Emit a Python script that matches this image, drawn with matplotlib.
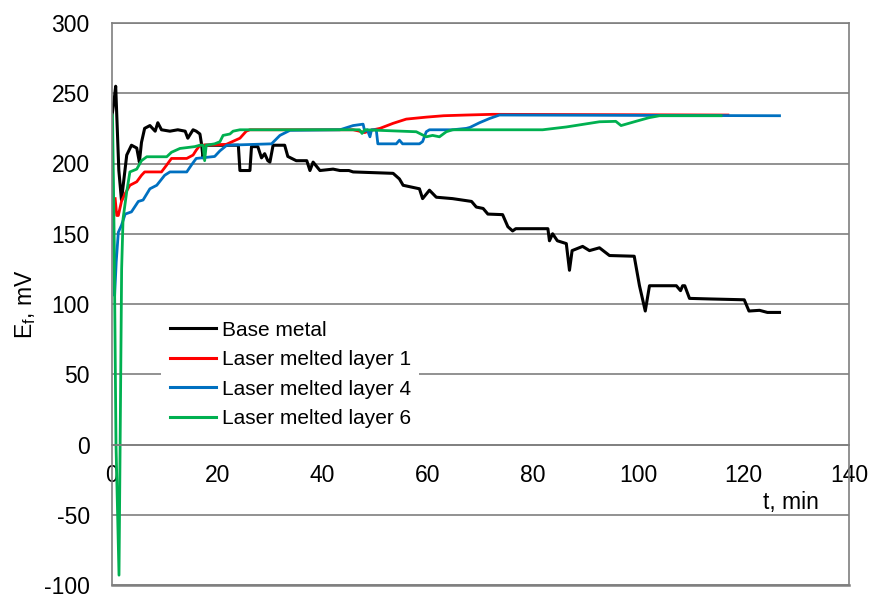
import matplotlib
matplotlib.use("Agg")
import matplotlib.pyplot as plt

plt.rcParams['font.family'] = ['Liberation Sans', 'DejaVu Sans']
plt.rcParams['axes.unicode_minus'] = False

# ---------------- data ----------------
base_t = [0, 0.4, 0.7, 1.0, 1.3, 1.8, 2.3, 2.8, 3.7, 4.7, 5.0, 5.2, 5.6, 6.2, 7.2, 8.2, 8.7, 9.4,
          11, 12.5, 13.9, 14.4, 15.4, 16, 16.7, 17.0, 17.3, 17.6, 24.0, 24.3, 26.2, 26.5, 27.7,
          28.4, 29.0, 29.6, 30.0, 30.6, 32.8, 33.4, 35, 37, 37.6, 38.2, 39.5, 42, 43.3, 45, 45.8,
          53.4, 54.6, 55.3, 58.4, 59, 60.3, 61.6, 64.7, 68.3, 69.2, 70.5, 71.4, 74.2, 75.2, 76.1,
          76.7, 82.8, 83.1, 83.7, 84.6, 86.3, 86.9, 87.4, 89.4, 90.7, 92.6, 94.5, 99.2, 100.2,
          101.3, 102.1, 107.2, 108, 108.4, 108.8, 109.7, 113.5, 120.1, 121, 123, 124.5, 126.8]
base_v = [234, 245, 255, 225, 195, 174, 190, 206, 213, 211, 205, 201, 215, 225, 227, 223, 229, 224,
          223, 224, 223, 218, 224, 223, 221, 214, 204, 213, 213, 195, 195, 212, 212,
          204, 207, 202, 201, 213, 213, 205, 202, 202, 195, 201, 195, 196, 195, 195, 194,
          193, 189, 184.5, 182, 175, 181, 176, 175, 173, 169, 168, 164, 163.6, 155, 152,
          153.6, 153.6, 145, 150, 145, 143, 124, 138, 141, 138, 140, 134.5, 134, 113,
          95, 113, 113, 109.5, 113, 113, 104, 103.6, 103, 95, 95.5, 94, 94]

l1_t = [0.6, 0.9, 1.2, 1.8, 2.5, 3.4, 4.7, 5.6, 6.2, 9.4, 10.4, 11.3, 14.2, 15.4, 16, 16.7, 21.7,
        24.3, 25.5, 26.2, 45.8, 47, 48, 49, 50.9, 53.4, 55.9, 59.7, 63, 67.3, 72.3, 117]
l1_v = [175, 163, 163, 173, 178.6, 184.5, 187, 191.6, 194, 194, 199, 203.6, 203.6, 206, 209.5, 213,
        213.6, 218, 223, 224, 224, 223, 222, 223.5, 225, 228.6, 231.6, 233, 234, 234.5, 235, 234.5]

l4_t = [0.1, 0.3, 0.5, 0.8, 1.2, 1.8, 2.5, 3.7, 5, 5.9, 7.2, 8.5, 10, 11, 14.2, 15.1, 16, 19.5,
        20.5, 21.8, 30.3, 31.9, 33.8, 43.3, 45.8, 47.7, 48, 48.5, 49, 49.3, 50.2, 50.5, 54, 54.6,
        55.2, 58.4, 59, 59.7, 60.3, 64.7, 67.3, 68, 69.8, 71.7, 73.6, 126.8]
l4_v = [200, 150, 106, 130, 151, 156, 164, 165.6, 173, 174, 182, 184.5, 191.6, 194, 194, 199, 203.6, 205,
        209, 213, 214, 220, 223.6, 224, 227, 228, 223, 224, 219, 224, 224, 214, 214, 216.6,
        214, 214, 215.6, 222.6, 224, 224, 225, 225.7, 229, 232, 234.5, 234]

l6_t = [0, 0.1, 0.4, 0.76, 1.33, 1.83, 2.1, 2.8, 3.4, 4.7, 5.6, 6.6, 10.4, 11.3, 12.9, 15.7, 16.7,
        17.3, 17.6, 17.9, 19.5, 20.5, 21.1, 22.4, 23, 24.3, 47, 47.5, 48, 57.8, 59.7, 60.9, 62.2,
        63.5, 64.7, 81.8, 86.3, 92.6, 95.7, 96.7, 99.5, 102, 104, 115.7]
l6_v = [235, 234, 150, 0, -93, 125, 160.7, 180, 194, 196, 202, 204.8, 204.8, 208, 210.7, 212, 213,
        213, 202, 213, 214, 215.5, 220, 221, 223, 224, 224, 221.4, 224, 222.6, 219, 220, 219,
        222.6, 224, 224, 226, 229.7, 230, 227, 230, 232.6, 234, 234]

series_names = ['Base metal', 'Laser melted layer 1', 'Laser melted layer 4', 'Laser melted layer 6']
x_ticks = [0, 20, 40, 60, 80, 100, 120, 140]
y_ticks = [-100, -50, 0, 50, 100, 150, 200, 250, 300]

# ---------------- figure ----------------
fig = plt.figure(figsize=(8.7, 5.95), dpi=100)
ax = fig.add_axes([112 / 870, 1 - 585 / 595, (849 - 112) / 870, (585 - 23) / 595])

grid_c = '#7f7f7f'
ax.set_xlim(0, 140)
ax.set_ylim(-100, 300)
ax.set_yticks(y_ticks)
ax.set_xticks(x_ticks)
ax.yaxis.grid(True, color=grid_c, lw=1.2)
ax.set_axisbelow(True)

ax.plot(base_t, base_v, color='black', lw=2.2, label=series_names[0])
ax.plot(l1_t, l1_v, color='#FF0000', lw=2.0, label=series_names[1])
ax.plot(l4_t, l4_v, color='#0070C0', lw=2.0, label=series_names[2])
ax.plot(l6_t, l6_v, color='#00B050', lw=2.0, label=series_names[3])

for s in ['left', 'right', 'top']:
    ax.spines[s].set_color(grid_c)
    ax.spines[s].set_linewidth(1.2)
ax.spines['bottom'].set_position(('data', 0))
ax.spines['bottom'].set_color(grid_c)
ax.spines['bottom'].set_linewidth(1.2)
ax.axhline(-100, color=grid_c, lw=1.8, clip_on=False)

ax.tick_params(axis='both', length=0, labelsize=16.5, colors='black')
ax.tick_params(axis='x', pad=14)
ax.tick_params(axis='y', pad=16)

ax.set_ylabel('E$_\\mathregular{f}$, mV', fontsize=16.5)
ax.yaxis.set_label_coords(-0.101, 0.5)
ax.text(129, -41.5, 't, min', fontsize=16.5, ha='center', va='center')

leg = ax.legend(loc='upper left', bbox_to_anchor=(151 / 870, 1 - 302 / 595),
                bbox_transform=fig.transFigure, fontsize=15, frameon=True,
                handlelength=2.2, handletextpad=0.3, labelspacing=0.5,
                borderpad=0.4, fancybox=False)
leg.get_frame().set_edgecolor('none')
leg.get_frame().set_facecolor('white')
leg.get_frame().set_alpha(1)
for ln in leg.get_lines():
    ln.set_linewidth(2.2)

fig.savefig('out.png', dpi=100)
